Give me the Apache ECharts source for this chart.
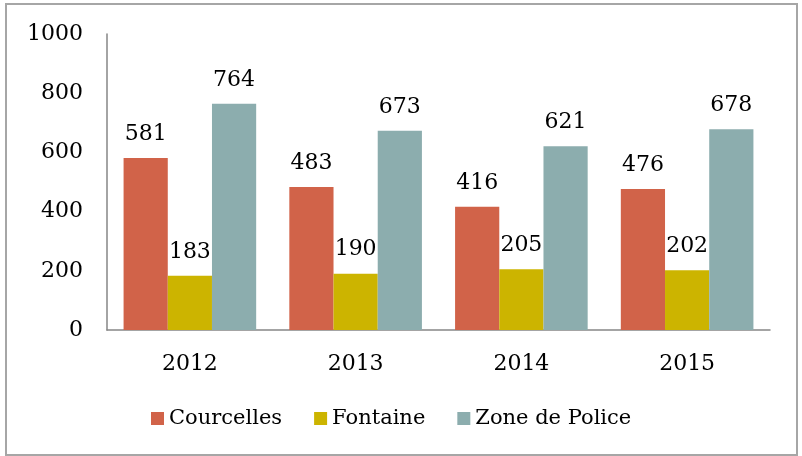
<!DOCTYPE html>
<html>
<head>
<meta charset="utf-8">
<script src="https://cdn.jsdelivr.net/npm/echarts@6/dist/echarts.min.js"></script>
<style>
  html, body { margin: 0; padding: 0; background: #fff; }
  #chart { width: 802px; height: 456px; }
</style>
</head>
<body>
<div id="chart"></div>
<script>
const years = ['2012', '2013', '2014', '2015']
const courcelles = [581, 483, 416, 476]
const fontaine = [183, 190, 205, 202]
const zonePolice = [764, 673, 621, 678]
const yTicks = [0, 200, 400, 600, 800, 1000]

const font = 'DejaVu Serif'
const chartDom = document.getElementById('chart')
const myChart = echarts.init(chartDom)

const barLabel = {
  show: true,
  position: 'top',
  distance: 13,
  color: '#000',
  fontFamily: font,
  fontSize: 22
}

const option = {
  animation: false,
  textStyle: {
    fontFamily: font,
    color: '#000'
  },
  graphic: [
    {
      type: 'rect',
      shape: { x: 6, y: 4, width: 791, height: 451 },
      style: { fill: 'none', stroke: '#a6a6a6', lineWidth: 2 },
      silent: true
    }
  ],
  legend: {
    bottom: 22,
    left: 146,
    itemWidth: 13,
    itemHeight: 13,
    itemGap: 32,
    icon: 'rect',
    textStyle: {
      fontFamily: font,
      fontSize: 21,
      color: '#000'
    },
    data: ['Courcelles', 'Fontaine', 'Zone de Police']
  },
  grid: {
    left: 107,
    right: 32,
    top: 34,
    bottom: 126
  },
  xAxis: {
    type: 'category',
    data: years,
    axisLine: { lineStyle: { color: '#868686', width: 1.5 } },
    axisTick: { show: false },
    axisLabel: {
      margin: 23,
      fontFamily: font,
      fontSize: 22,
      color: '#000'
    }
  },
  yAxis: {
    type: 'value',
    min: yTicks[0],
    max: yTicks[yTicks.length - 1],
    interval: 200,
    axisLine: { show: true, lineStyle: { color: '#868686', width: 1.5 } },
    axisTick: { show: false },
    splitLine: { show: false },
    axisLabel: {
      margin: 24,
      fontFamily: font,
      fontSize: 22,
      color: '#000',
      formatter: (v) => String(v)
    }
  },
  series: [
    {
      name: 'Courcelles',
      type: 'bar',
      data: courcelles,
      barGap: '0%',
      barCategoryGap: '20%',
      itemStyle: { color: '#d16349' },
      label: barLabel
    },
    {
      name: 'Fontaine',
      type: 'bar',
      data: fontaine,
      itemStyle: { color: '#ccb400' },
      label: barLabel
    },
    {
      name: 'Zone de Police',
      type: 'bar',
      data: zonePolice,
      itemStyle: { color: '#8cadae' },
      label: barLabel
    }
  ]
}
option && myChart.setOption(option)
</script>
</body>
</html>
